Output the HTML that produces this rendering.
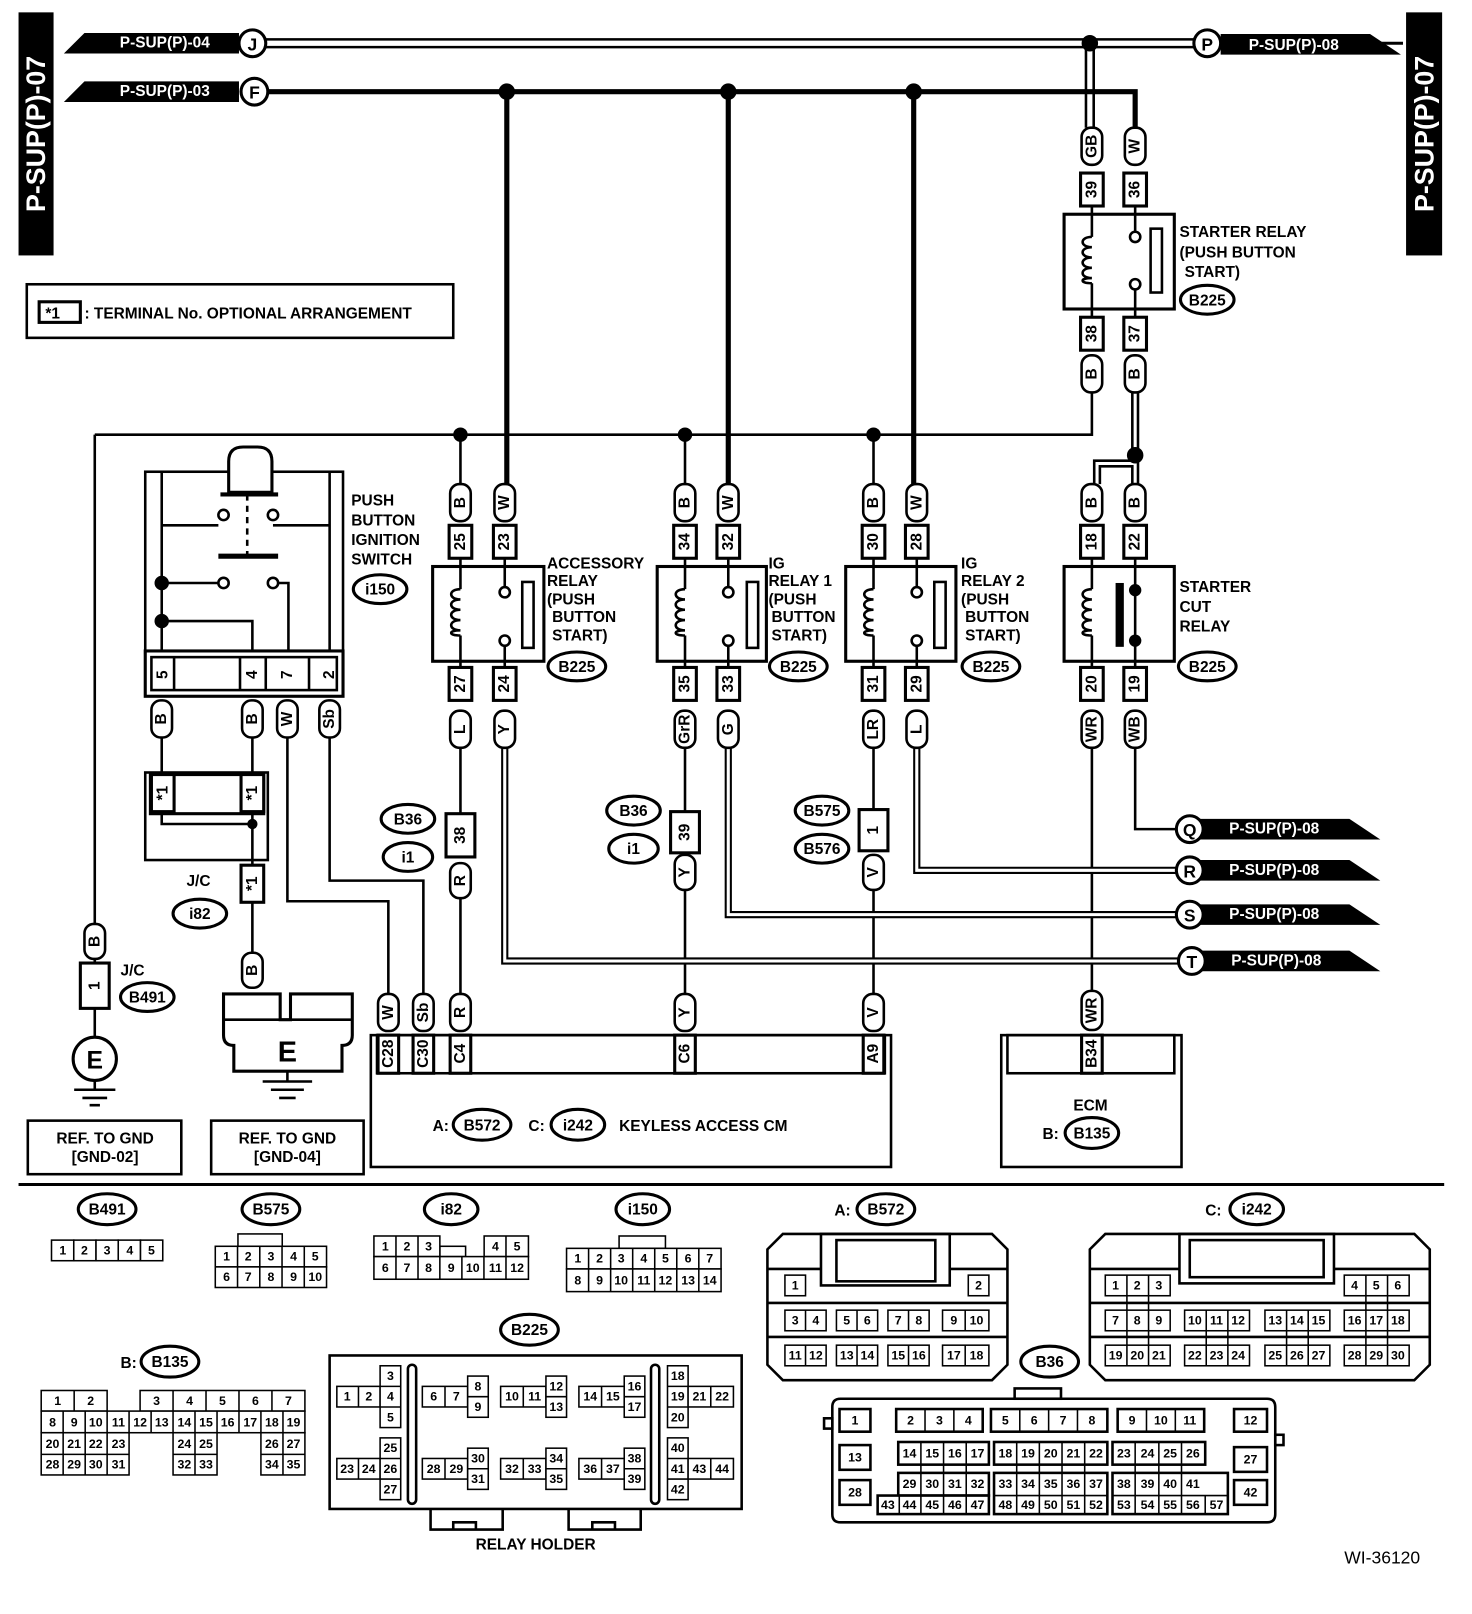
<!DOCTYPE html>
<html><head><meta charset="utf-8"><style>
html,body{margin:0;padding:0;background:#fff}
svg{display:block}
text{font-family:"Liberation Sans",sans-serif;font-weight:bold;fill:#000}
.t{font-size:15px}
.s{font-size:12px;font-weight:normal}
.c{text-anchor:middle;dominant-baseline:central}
.wh{fill:#fff}
.ln{stroke:#000;stroke-width:2.5;fill:none}
.th{stroke:#000;stroke-width:5;fill:none}
.bx{stroke:#000;stroke-width:3;fill:#fff}
.cl{stroke:#000;stroke-width:1.5;fill:#fff}
.tg{stroke:#000;stroke-width:2.5;fill:#fff}
</style></head><body>
<svg width="1472" height="1614" viewBox="0 0 1429 1567" preserveAspectRatio="none" xmlns="http://www.w3.org/2000/svg">
<!-- side labels -->
<rect x="18" y="12" width="34" height="236" fill="#000"/>
<text class="c wh" font-size="26" transform="translate(35,130) rotate(-90)">P-SUP(P)-07</text>
<rect x="1365" y="12" width="35" height="236" fill="#000"/>
<text class="c wh" font-size="26" transform="translate(1383,130) rotate(-90)">P-SUP(P)-07</text>

<!-- J double line -->
<path d="M258 42H1160M1058 42V124" stroke="#000" stroke-width="10" fill="none"/>
<path d="M258 42H1160M1058 42V124" stroke="#fff" stroke-width="5" fill="none"/>
<path d="M1185 42H1362" stroke="#000" stroke-width="3"/>
<polygon points="62,52 82,32 232,32 232,52" fill="#000"/>
<text class="c wh" x="160" y="42" font-size="15">P-SUP(P)-04</text>
<circle cx="245" cy="42" r="13" class="bx"/><text class="c" x="245" y="43" font-size="17">J</text>
<polygon points="1185,33 1330,33 1360,53 1185,53" fill="#000"/>
<text class="c wh" x="1256" y="44" font-size="15">P-SUP(P)-08</text>
<circle cx="1172" cy="42" r="13" class="bx"/><text class="c" x="1172" y="43" font-size="17">P</text>
<circle cx="1058" cy="42" r="8" fill="#000"/>

<!-- F thick line -->
<path d="M258 89H1102V124" class="th"/>
<polygon points="62,99 82,79 232,79 232,99" fill="#000"/>
<text class="c wh" x="160" y="89" font-size="15">P-SUP(P)-03</text>
<circle cx="247" cy="89" r="13" class="bx"/><text class="c" x="247" y="90" font-size="17">F</text>
<path d="M492 89V470M707 89V470M887 89V470" class="th"/>
<circle cx="492" cy="89" r="8" fill="#000"/><circle cx="707" cy="89" r="8" fill="#000"/><circle cx="887" cy="89" r="8" fill="#000"/>

<!-- ground/B line -->
<path d="M92 422H1060V379M447 422V470M665 422V470M848 422V470M92 422V897" class="ln"/>
<circle cx="447" cy="422" r="7" fill="#000"/><circle cx="665" cy="422" r="7" fill="#000"/><circle cx="848" cy="422" r="7" fill="#000"/>
<path d="M1102 379V470M1102 450H1065V470" stroke="#000" stroke-width="8" fill="none"/>
<path d="M1102 379V470M1102 450H1065V470" stroke="#fff" stroke-width="3" fill="none"/>
<circle cx="1102" cy="442" r="8" fill="#000"/>

<!-- lower wires -->
<path d="M447 726V790M447 872V965M665 726V790M665 864V965M848 726V790M848 864V965M1060 726V962M1102 726V805H1145" class="ln"/>
<path d="M490 726V933H1145M707 726V888H1145M890 726V845H1145" stroke="#000" stroke-width="7" fill="none"/>
<path d="M490 726V933H1145M707 726V888H1145M890 726V845H1145" stroke="#fff" stroke-width="3" fill="none"/>

<!-- right pennants -->
<g>
<polygon points="1160,795 1310,795 1340,815 1160,815" fill="#000"/><circle cx="1155" cy="805" r="13" class="bx"/><text class="c" x="1155" y="806" font-size="17">Q</text><text class="c wh" x="1237" y="805" font-size="15">P-SUP(P)-08</text>
<polygon points="1160,835 1310,835 1340,855 1160,855" fill="#000"/><circle cx="1155" cy="845" r="13" class="bx"/><text class="c" x="1155" y="846" font-size="17">R</text><text class="c wh" x="1237" y="845" font-size="15">P-SUP(P)-08</text>
<polygon points="1160,878 1310,878 1340,898 1160,898" fill="#000"/><circle cx="1155" cy="888" r="13" class="bx"/><text class="c" x="1155" y="889" font-size="17">S</text><text class="c wh" x="1237" y="888" font-size="15">P-SUP(P)-08</text>
<polygon points="1160,923 1310,923 1340,943 1160,943" fill="#000"/><circle cx="1157" cy="933" r="13" class="bx"/><text class="c" x="1157" y="934" font-size="17">T</text><text class="c wh" x="1239" y="933" font-size="15">P-SUP(P)-08</text>
</g>

<!-- push switch wiring -->
<path d="M157 716V752M245 716V752M279 716V875H377V965M320 716V855H411V965M245 875V925M92 931V1008" class="ln"/>
<rect x="141" y="750" width="119" height="85" class="ln"/>
<rect x="146" y="752" width="110" height="38" class="bx"/>
<path d="M157 790V800H245M245 790V840" class="ln"/>
<circle cx="245" cy="800" r="5" fill="#000"/>

<!-- relays boxes -->
<g>
<rect x="1033" y="208" width="107" height="92" class="bx"/>
<rect x="420" y="550" width="108" height="92" class="bx"/>
<rect x="638" y="550" width="106" height="92" class="bx"/>
<rect x="821" y="550" width="107" height="92" class="bx"/>
<rect x="1033" y="550" width="107" height="92" class="bx"/>
</g>
<g class="ln">
<path d="M1060 200V230M1060 275V308M1102 200V228M1102 278V308"/>
<path d="M1060 230c-12 0-12 10 0 10c-12 0-12 10 0 10c-12 0-12 10 0 10c-12 0-12 10 0 10c-12 0-12 5 0 5"/>
<path d="M447 542V572M447 617V648M490 542V570M490 628V648"/>
<path d="M447 572c-12 0-12 10 0 10c-12 0-12 10 0 10c-12 0-12 10 0 10c-12 0-12 10 0 10c-12 0-12 5 0 5"/>
<path d="M665 542V572M665 617V648M707 542V570M707 628V648"/>
<path d="M665 572c-12 0-12 10 0 10c-12 0-12 10 0 10c-12 0-12 10 0 10c-12 0-12 10 0 10c-12 0-12 5 0 5"/>
<path d="M848 542V572M848 617V648M890 542V570M890 628V648"/>
<path d="M848 572c-12 0-12 10 0 10c-12 0-12 10 0 10c-12 0-12 10 0 10c-12 0-12 10 0 10c-12 0-12 5 0 5"/>
<path d="M1060 542V572M1060 617V648M1102 542V648"/>
<path d="M1060 572c-12 0-12 10 0 10c-12 0-12 10 0 10c-12 0-12 10 0 10c-12 0-12 10 0 10c-12 0-12 5 0 5"/>
</g>
<g fill="#fff" stroke="#000" stroke-width="2.5">
<circle cx="1102" cy="230" r="5"/><circle cx="1102" cy="276" r="5"/><rect x="1117" y="222" width="11" height="62"/>
<circle cx="490" cy="575" r="5"/><circle cx="490" cy="622" r="5"/><rect x="507" y="565" width="11" height="64"/>
<circle cx="707" cy="575" r="5"/><circle cx="707" cy="622" r="5"/><rect x="725" y="565" width="11" height="64"/>
<circle cx="890" cy="575" r="5"/><circle cx="890" cy="622" r="5"/><rect x="907" y="565" width="11" height="64"/>
</g>
<rect x="1083" y="566" width="8" height="62" fill="#000"/>
<circle cx="1102" cy="573" r="6" fill="#000"/><circle cx="1102" cy="622" r="6" fill="#000"/>

<!-- push button switch -->
<rect x="141" y="458" width="192" height="176" class="ln"/>
<path d="M157 458V632M320 458V632" class="ln"/>
<path d="M222 478V448q0-14 14-14h14q14 0 14 14V478Z" class="bx"/>
<path d="M214 480H270" stroke="#000" stroke-width="4"/>
<path d="M240 480V545" stroke="#000" stroke-width="2.5" stroke-dasharray="6,5"/>
<path d="M212 540H270" stroke="#000" stroke-width="5"/>
<path d="M157 510H212M265 510H320M157 566H212M265 566H280V632M157 603H245V632" class="ln"/>
<g fill="#fff" stroke="#000" stroke-width="2.5"><circle cx="217" cy="500" r="5"/><circle cx="265" cy="500" r="5"/><circle cx="217" cy="566" r="5"/><circle cx="265" cy="566" r="5"/></g>
<circle cx="157" cy="566" r="7" fill="#000"/><circle cx="157" cy="603" r="7" fill="#000"/>
<rect x="141" y="632" width="192" height="44" class="bx"/>
<rect x="147" y="638" width="180" height="32" class="ln"/>
<path d="M169 638V670M233 638V670M258 638V670M300 638V670" class="ln"/>
<text class="c t" transform="translate(158,655) rotate(-90)">5</text>
<text class="c t" transform="translate(245,655) rotate(-90)">4</text>
<text class="c t" transform="translate(279,655) rotate(-90)">7</text>
<text class="c t" transform="translate(320,655) rotate(-90)">2</text>
<text class="t" x="341" y="491">PUSH</text><text class="t" x="341" y="510">BUTTON</text><text class="t" x="341" y="529">IGNITION</text><text class="t" x="341" y="548">SWITCH</text>

<!-- keyless CM & ECM boxes (no fill so labels show) -->
<rect x="360" y="1005" width="505" height="128" class="ln" stroke-width="3"/>
<rect x="366" y="1005" width="493" height="37" class="ln"/>
<rect x="972" y="1005" width="175" height="128" class="ln" stroke-width="3"/>
<rect x="978" y="1005" width="162" height="37" class="ln"/>

<!-- tags -->
<g class="tg">
<rect x="1050" y="124" width="20" height="36" rx="9"/><rect x="1092" y="124" width="20" height="36" rx="9"/>
<rect x="1050" y="345" width="20" height="36" rx="9"/><rect x="1092" y="345" width="20" height="36" rx="9"/>
<rect x="1050" y="470" width="20" height="36" rx="9"/><rect x="1092" y="470" width="20" height="36" rx="9"/>
<rect x="1050" y="690" width="20" height="36" rx="9"/><rect x="1092" y="690" width="20" height="36" rx="9"/>
<rect x="437" y="470" width="20" height="36" rx="9"/><rect x="480" y="470" width="20" height="36" rx="9"/>
<rect x="437" y="690" width="20" height="36" rx="9"/><rect x="480" y="690" width="20" height="36" rx="9"/>
<rect x="655" y="470" width="20" height="36" rx="9"/><rect x="697" y="470" width="20" height="36" rx="9"/>
<rect x="655" y="690" width="20" height="36" rx="9"/><rect x="697" y="690" width="20" height="36" rx="9"/>
<rect x="838" y="470" width="20" height="36" rx="9"/><rect x="880" y="470" width="20" height="36" rx="9"/>
<rect x="838" y="690" width="20" height="36" rx="9"/><rect x="880" y="690" width="20" height="36" rx="9"/>
<rect x="147" y="680" width="20" height="36" rx="9"/><rect x="235" y="680" width="20" height="36" rx="9"/>
<rect x="269" y="680" width="20" height="36" rx="9"/><rect x="310" y="680" width="20" height="36" rx="9"/>
<rect x="437" y="838" width="20" height="34" rx="9"/><rect x="655" y="830" width="20" height="34" rx="9"/><rect x="838" y="830" width="20" height="34" rx="9"/>
<rect x="82" y="897" width="20" height="34" rx="9"/><rect x="235" y="925" width="20" height="34" rx="9"/>
<rect x="367" y="965" width="20" height="36" rx="9"/><rect x="401" y="965" width="20" height="36" rx="9"/>
<rect x="437" y="965" width="20" height="36" rx="9"/><rect x="655" y="965" width="20" height="36" rx="9"/>
<rect x="838" y="965" width="20" height="36" rx="9"/><rect x="1050" y="962" width="20" height="38" rx="9"/>
</g>
<g class="t">
<text class="c" transform="translate(1060,142) rotate(-90)">GB</text><text class="c" transform="translate(1102,142) rotate(-90)">W</text>
<text class="c" transform="translate(1060,363) rotate(-90)">B</text><text class="c" transform="translate(1102,363) rotate(-90)">B</text>
<text class="c" transform="translate(1060,488) rotate(-90)">B</text><text class="c" transform="translate(1102,488) rotate(-90)">B</text>
<text class="c" transform="translate(1060,708) rotate(-90)">WR</text><text class="c" transform="translate(1102,708) rotate(-90)">WB</text>
<text class="c" transform="translate(447,488) rotate(-90)">B</text><text class="c" transform="translate(490,488) rotate(-90)">W</text>
<text class="c" transform="translate(447,708) rotate(-90)">L</text><text class="c" transform="translate(490,708) rotate(-90)">Y</text>
<text class="c" transform="translate(665,488) rotate(-90)">B</text><text class="c" transform="translate(707,488) rotate(-90)">W</text>
<text class="c" transform="translate(665,708) rotate(-90)">GrR</text><text class="c" transform="translate(707,708) rotate(-90)">G</text>
<text class="c" transform="translate(848,488) rotate(-90)">B</text><text class="c" transform="translate(890,488) rotate(-90)">W</text>
<text class="c" transform="translate(848,708) rotate(-90)">LR</text><text class="c" transform="translate(890,708) rotate(-90)">L</text>
<text class="c" transform="translate(157,698) rotate(-90)">B</text><text class="c" transform="translate(245,698) rotate(-90)">B</text>
<text class="c" transform="translate(279,698) rotate(-90)">W</text><text class="c" transform="translate(320,698) rotate(-90)">Sb</text>
<text class="c" transform="translate(447,855) rotate(-90)">R</text><text class="c" transform="translate(665,847) rotate(-90)">Y</text><text class="c" transform="translate(848,847) rotate(-90)">V</text>
<text class="c" transform="translate(92,914) rotate(-90)">B</text><text class="c" transform="translate(245,942) rotate(-90)">B</text>
<text class="c" transform="translate(377,983) rotate(-90)">W</text><text class="c" transform="translate(411,983) rotate(-90)">Sb</text>
<text class="c" transform="translate(447,983) rotate(-90)">R</text><text class="c" transform="translate(665,983) rotate(-90)">Y</text>
<text class="c" transform="translate(848,983) rotate(-90)">V</text><text class="c" transform="translate(1060,981) rotate(-90)">WR</text>
</g>

<!-- pin boxes -->
<g class="bx">
<rect x="1049" y="168" width="22" height="32"/><rect x="1091" y="168" width="22" height="32"/>
<rect x="1049" y="308" width="22" height="32"/><rect x="1091" y="308" width="22" height="32"/>
<rect x="1049" y="510" width="22" height="32"/><rect x="1091" y="510" width="22" height="32"/>
<rect x="1049" y="648" width="22" height="32"/><rect x="1091" y="648" width="22" height="32"/>
<rect x="436" y="510" width="22" height="32"/><rect x="479" y="510" width="22" height="32"/>
<rect x="436" y="648" width="22" height="32"/><rect x="479" y="648" width="22" height="32"/>
<rect x="654" y="510" width="22" height="32"/><rect x="696" y="510" width="22" height="32"/>
<rect x="654" y="648" width="22" height="32"/><rect x="696" y="648" width="22" height="32"/>
<rect x="837" y="510" width="22" height="32"/><rect x="879" y="510" width="22" height="32"/>
<rect x="837" y="648" width="22" height="32"/><rect x="879" y="648" width="22" height="32"/>
<rect x="433" y="790" width="28" height="42"/><rect x="651" y="788" width="28" height="40"/><rect x="834" y="786" width="28" height="40"/>
<rect x="78" y="935" width="28" height="44"/>
<rect x="147" y="752" width="22" height="36"/><rect x="234" y="752" width="22" height="36"/><rect x="234" y="840" width="22" height="36"/>
<rect x="367" y="1005" width="20" height="37"/><rect x="401" y="1005" width="20" height="37"/><rect x="437" y="1005" width="20" height="37"/><rect x="655" y="1005" width="20" height="37"/><rect x="838" y="1005" width="20" height="37"/>
<rect x="1050" y="1005" width="20" height="37"/>
</g>
<g class="t">
<text class="c" transform="translate(1060,184) rotate(-90)">39</text><text class="c" transform="translate(1102,184) rotate(-90)">36</text>
<text class="c" transform="translate(1060,324) rotate(-90)">38</text><text class="c" transform="translate(1102,324) rotate(-90)">37</text>
<text class="c" transform="translate(1060,526) rotate(-90)">18</text><text class="c" transform="translate(1102,526) rotate(-90)">22</text>
<text class="c" transform="translate(1060,664) rotate(-90)">20</text><text class="c" transform="translate(1102,664) rotate(-90)">19</text>
<text class="c" transform="translate(447,526) rotate(-90)">25</text><text class="c" transform="translate(490,526) rotate(-90)">23</text>
<text class="c" transform="translate(447,664) rotate(-90)">27</text><text class="c" transform="translate(490,664) rotate(-90)">24</text>
<text class="c" transform="translate(665,526) rotate(-90)">34</text><text class="c" transform="translate(707,526) rotate(-90)">32</text>
<text class="c" transform="translate(665,664) rotate(-90)">35</text><text class="c" transform="translate(707,664) rotate(-90)">33</text>
<text class="c" transform="translate(848,526) rotate(-90)">30</text><text class="c" transform="translate(890,526) rotate(-90)">28</text>
<text class="c" transform="translate(848,664) rotate(-90)">31</text><text class="c" transform="translate(890,664) rotate(-90)">29</text>
<text class="c" transform="translate(447,811) rotate(-90)">38</text><text class="c" transform="translate(665,808) rotate(-90)">39</text><text class="c" transform="translate(848,806) rotate(-90)">1</text>
<text class="c" transform="translate(92,957) rotate(-90)">1</text>
<text class="c" transform="translate(158,770) rotate(-90)">*1</text><text class="c" transform="translate(245,770) rotate(-90)">*1</text><text class="c" transform="translate(245,858) rotate(-90)">*1</text>
<text class="c" transform="translate(377,1023) rotate(-90)">C28</text><text class="c" transform="translate(411,1023) rotate(-90)">C30</text><text class="c" transform="translate(447,1023) rotate(-90)">C4</text><text class="c" transform="translate(665,1023) rotate(-90)">C6</text><text class="c" transform="translate(848,1023) rotate(-90)">A9</text>
<text class="c" transform="translate(1060,1023) rotate(-90)">B34</text>
</g>

<!-- relay labels -->
<g class="t">
<text x="1145" y="230">STARTER RELAY</text><text x="1145" y="250">(PUSH BUTTON</text><text x="1150" y="269">START)</text>
<text x="531" y="552">ACCESSORY</text><text x="531" y="569">RELAY</text><text x="531" y="587">(PUSH</text><text x="536" y="604">BUTTON</text><text x="536" y="622">START)</text>
<text x="746" y="552">IG</text><text x="746" y="569">RELAY 1</text><text x="746" y="587">(PUSH</text><text x="749" y="604">BUTTON</text><text x="749" y="622">START)</text>
<text x="933" y="552">IG</text><text x="933" y="569">RELAY 2</text><text x="933" y="587">(PUSH</text><text x="937" y="604">BUTTON</text><text x="937" y="622">START)</text>
<text x="1145" y="575">STARTER</text><text x="1145" y="594">CUT</text><text x="1145" y="613">RELAY</text>
<text x="181" y="860">J/C</text><text x="117" y="947">J/C</text>
</g>
<!-- ovals -->
<g fill="#fff" stroke="#000" stroke-width="3">
<ellipse cx="1172" cy="291" rx="26" ry="14"/><ellipse cx="560" cy="647" rx="28" ry="14"/><ellipse cx="775" cy="647" rx="28" ry="14"/>
<ellipse cx="962" cy="647" rx="28" ry="14"/><ellipse cx="1172" cy="647" rx="28" ry="14"/><ellipse cx="369" cy="572" rx="26" ry="14"/>
<ellipse cx="396" cy="795" rx="26" ry="14"/><ellipse cx="396" cy="832" rx="24" ry="14"/>
<ellipse cx="615" cy="787" rx="26" ry="14"/><ellipse cx="615" cy="824" rx="24" ry="14"/>
<ellipse cx="798" cy="787" rx="26" ry="14"/><ellipse cx="798" cy="824" rx="26" ry="14"/>
<ellipse cx="194" cy="887" rx="26" ry="14"/><ellipse cx="143" cy="968" rx="26" ry="14"/>
<ellipse cx="468" cy="1092" rx="28" ry="15"/><ellipse cx="561" cy="1092" rx="26" ry="15"/><ellipse cx="1060" cy="1100" rx="26" ry="15"/>
<ellipse cx="104" cy="1174" rx="28" ry="15"/><ellipse cx="263" cy="1174" rx="28" ry="15"/><ellipse cx="438" cy="1174" rx="26" ry="15"/><ellipse cx="624" cy="1174" rx="26" ry="15"/>
<ellipse cx="860" cy="1174" rx="28" ry="15"/><ellipse cx="1220" cy="1174" rx="26" ry="15"/><ellipse cx="514" cy="1291" rx="28" ry="15"/>
<ellipse cx="165" cy="1322" rx="28" ry="15"/><ellipse cx="1019" cy="1322" rx="28" ry="15"/>
</g>
<g class="t">
<text class="c" x="1172" y="292">B225</text><text class="c" x="560" y="648">B225</text><text class="c" x="775" y="648">B225</text>
<text class="c" x="962" y="648">B225</text><text class="c" x="1172" y="648">B225</text><text class="c" x="369" y="573">i150</text>
<text class="c" x="396" y="796">B36</text><text class="c" x="396" y="833">i1</text>
<text class="c" x="615" y="788">B36</text><text class="c" x="615" y="825">i1</text>
<text class="c" x="798" y="788">B575</text><text class="c" x="798" y="825">B576</text>
<text class="c" x="194" y="888">i82</text><text class="c" x="143" y="969">B491</text>
<text class="c" x="468" y="1093">B572</text><text class="c" x="561" y="1093">i242</text><text class="c" x="1060" y="1101">B135</text>
<text class="c" x="104" y="1175">B491</text><text class="c" x="263" y="1175">B575</text><text class="c" x="438" y="1175">i82</text><text class="c" x="624" y="1175">i150</text>
<text class="c" x="860" y="1175">B572</text><text class="c" x="1220" y="1175">i242</text><text class="c" x="514" y="1292">B225</text>
<text class="c" x="165" y="1323">B135</text><text class="c" x="1019" y="1323">B36</text>
<text x="810" y="1180">A:</text><text x="1170" y="1180">C:</text><text x="117" y="1328">B:</text>
<text x="420" y="1098">A:</text><text x="513" y="1098">C:</text><text x="601" y="1098">KEYLESS ACCESS CM</text>
<text x="1042" y="1078">ECM</text><text x="1012" y="1106">B:</text>
</g>

<!-- terminal note -->
<rect x="26" y="276" width="414" height="52" class="ln" stroke-width="3"/>
<rect x="38" y="293" width="40" height="20" class="bx"/>
<text class="t" x="44" y="309">*1</text><text class="t" x="82" y="309">: TERMINAL No. OPTIONAL ARRANGEMENT</text>

<!-- grounds -->
<circle cx="92" cy="1028" r="21" class="bx"/><text class="c" x="92" y="1030" font-size="24">E</text>
<path d="M92 1049V1058M72 1058H112M80 1066H104M87 1073H97" class="ln"/>
<path d="M217 965h55v25h10v-25h60v40q0 10-10 10v25H227v-25q-10 0-10-10Z" class="bx"/>
<path d="M217 990H272M282 990H342" class="ln"/>
<text class="c" x="279" y="1022" font-size="28">E</text>
<path d="M279 1040V1050M255 1050H303M263 1058H295M271 1066H287" class="ln"/>
<rect x="27" y="1088" width="149" height="52" class="ln" stroke-width="3"/>
<text class="c t" x="102" y="1106">REF. TO GND</text><text class="c t" x="102" y="1124">[GND-02]</text>
<rect x="205" y="1088" width="148" height="52" class="ln" stroke-width="3"/>
<text class="c t" x="279" y="1106">REF. TO GND</text><text class="c t" x="279" y="1124">[GND-04]</text>

<path d="M18 1150H1402" stroke="#000" stroke-width="3"/>

<!-- bottom connectors -->
<g class="cl">
<rect x="50" y="1204" width="21.6" height="20"/><rect x="71.6" y="1204" width="21.6" height="20"/><rect x="93.2" y="1204" width="21.6" height="20"/><rect x="114.8" y="1204" width="21.6" height="20"/><rect x="136.4" y="1204" width="21.6" height="20"/>
<rect x="231" y="1198" width="43" height="12"/>
<rect x="209" y="1210" width="108" height="20"/><rect x="209" y="1230" width="108" height="20"/>
<path d="M230.6 1210V1250M252.2 1210V1250M273.8 1210V1250M295.4 1210V1250"/>
<rect x="427" y="1210" width="25" height="10"/>
<rect x="363" y="1200" width="64" height="20"/><rect x="470" y="1200" width="43" height="20"/><rect x="363" y="1220" width="150" height="22"/>
<path d="M384.4 1200V1242M405.8 1200V1242M427 1220V1242M448.4 1220V1242M469.8 1220V1242M491.2 1200V1242"/>
<rect x="601" y="1200" width="45" height="12"/>
<rect x="550" y="1212" width="150" height="20"/><rect x="550" y="1232" width="150" height="22"/>
<path d="M571.4 1212V1254M592.8 1212V1254M614.2 1212V1254M635.6 1212V1254M657 1212V1254M678.4 1212V1254"/>
<rect x="40" y="1350" width="64" height="20"/><rect x="136" y="1350" width="160" height="20"/>
<path d="M72 1350V1370M168 1350V1370M200 1350V1370M232 1350V1370M264 1350V1370"/>
<rect x="40" y="1370" width="256" height="21"/>
<path d="M61.3 1370V1391M82.7 1370V1391M104 1370V1391M125.3 1370V1391M146.7 1370V1391M168 1370V1391M189.3 1370V1391M210.7 1370V1391M232 1370V1391M253.3 1370V1391M274.7 1370V1391"/>
<rect x="40" y="1391" width="85.3" height="41"/><rect x="168" y="1391" width="42.7" height="41"/><rect x="253.3" y="1391" width="42.7" height="41"/>
<path d="M40 1412H125.3M61.3 1391V1432M82.7 1391V1432M104 1391V1432M168 1412H210.7M189.3 1391V1432M253.3 1412H296M274.7 1391V1432"/>
</g>
<g class="s c">
<text x="61" y="1214">1</text><text x="82" y="1214">2</text><text x="104" y="1214">3</text><text x="126" y="1214">4</text><text x="147" y="1214">5</text>
<text x="220" y="1220">1</text><text x="241" y="1220">2</text><text x="263" y="1220">3</text><text x="285" y="1220">4</text><text x="306" y="1220">5</text>
<text x="220" y="1240">6</text><text x="241" y="1240">7</text><text x="263" y="1240">8</text><text x="285" y="1240">9</text><text x="306" y="1240">10</text>
<text x="374" y="1210">1</text><text x="395" y="1210">2</text><text x="416" y="1210">3</text><text x="481" y="1210">4</text><text x="502" y="1210">5</text>
<text x="374" y="1231">6</text><text x="395" y="1231">7</text><text x="416" y="1231">8</text><text x="438" y="1231">9</text><text x="459" y="1231">10</text><text x="481" y="1231">11</text><text x="502" y="1231">12</text>
<text x="561" y="1222">1</text><text x="582" y="1222">2</text><text x="603" y="1222">3</text><text x="625" y="1222">4</text><text x="646" y="1222">5</text><text x="668" y="1222">6</text><text x="689" y="1222">7</text>
<text x="561" y="1243">8</text><text x="582" y="1243">9</text><text x="603" y="1243">10</text><text x="625" y="1243">11</text><text x="646" y="1243">12</text><text x="668" y="1243">13</text><text x="689" y="1243">14</text>
<text x="56" y="1360">1</text><text x="88" y="1360">2</text><text x="152" y="1360">3</text><text x="184" y="1360">4</text><text x="216" y="1360">5</text><text x="248" y="1360">6</text><text x="280" y="1360">7</text>
<text x="51" y="1381">8</text><text x="72" y="1381">9</text><text x="93" y="1381">10</text><text x="115" y="1381">11</text><text x="136" y="1381">12</text><text x="157" y="1381">13</text><text x="179" y="1381">14</text><text x="200" y="1381">15</text><text x="221" y="1381">16</text><text x="243" y="1381">17</text><text x="264" y="1381">18</text><text x="285" y="1381">19</text>
<text x="51" y="1402">20</text><text x="72" y="1402">21</text><text x="93" y="1402">22</text><text x="115" y="1402">23</text><text x="179" y="1402">24</text><text x="200" y="1402">25</text><text x="264" y="1402">26</text><text x="285" y="1402">27</text>
<text x="51" y="1422">28</text><text x="72" y="1422">29</text><text x="93" y="1422">30</text><text x="115" y="1422">31</text><text x="179" y="1422">32</text><text x="200" y="1422">33</text><text x="264" y="1422">34</text><text x="285" y="1422">35</text>
</g>

<!-- B572 -->
<path d="M760 1198H963L978 1213V1325L963 1340H760L745 1325V1213Z" class="ln"/>
<path d="M745 1232H797M922 1232H978M745 1265H978M745 1298H978" class="ln"/>
<rect x="797" y="1198" width="125" height="50" class="ln"/><rect x="812" y="1204" width="96" height="40" class="ln"/>
<g class="cl">
<rect x="762" y="1238" width="20" height="20"/><rect x="940" y="1238" width="20" height="20"/>
<rect x="762" y="1272" width="40" height="20"/><rect x="812" y="1272" width="40" height="20"/><rect x="862" y="1272" width="40" height="20"/><rect x="915" y="1272" width="45" height="20"/>
<rect x="762" y="1306" width="40" height="20"/><rect x="812" y="1306" width="40" height="20"/><rect x="862" y="1306" width="40" height="20"/><rect x="915" y="1306" width="45" height="20"/>
<path d="M782 1272V1292M832 1272V1292M882 1272V1292M937 1272V1292M782 1306V1326M832 1306V1326M882 1306V1326M937 1306V1326"/>
</g>
<g class="s c">
<text x="772" y="1248">1</text><text x="950" y="1248">2</text>
<text x="772" y="1282">3</text><text x="792" y="1282">4</text><text x="822" y="1282">5</text><text x="842" y="1282">6</text><text x="872" y="1282">7</text><text x="892" y="1282">8</text><text x="926" y="1282">9</text><text x="948" y="1282">10</text>
<text x="772" y="1316">11</text><text x="792" y="1316">12</text><text x="822" y="1316">13</text><text x="842" y="1316">14</text><text x="872" y="1316">15</text><text x="892" y="1316">16</text><text x="926" y="1316">17</text><text x="948" y="1316">18</text>
</g>
<!-- i242 -->
<path d="M1073 1198H1373L1388 1213V1325L1373 1340H1073L1058 1325V1213Z" class="ln"/>
<path d="M1058 1232H1145M1295 1232H1388M1058 1265H1388M1058 1298H1388" class="ln"/>
<rect x="1145" y="1198" width="150" height="48" class="ln"/><rect x="1155" y="1204" width="130" height="36" class="ln"/>
<g class="cl">
<rect x="1073" y="1238" width="63" height="20"/><rect x="1305" y="1238" width="63" height="20"/>
<rect x="1073" y="1272" width="63" height="20"/><rect x="1150" y="1272" width="63" height="20"/><rect x="1228" y="1272" width="63" height="20"/><rect x="1305" y="1272" width="63" height="20"/>
<rect x="1073" y="1306" width="63" height="20"/><rect x="1150" y="1306" width="63" height="20"/><rect x="1228" y="1306" width="63" height="20"/><rect x="1305" y="1306" width="63" height="20"/>
<path d="M1094 1238V1326M1115 1238V1326M1326 1238V1326M1347 1238V1326M1171 1272V1326M1192 1272V1326M1249 1272V1326M1270 1272V1326"/>
</g>
<g class="s c">
<text x="1083" y="1248">1</text><text x="1104" y="1248">2</text><text x="1125" y="1248">3</text><text x="1315" y="1248">4</text><text x="1336" y="1248">5</text><text x="1357" y="1248">6</text>
<text x="1083" y="1282">7</text><text x="1104" y="1282">8</text><text x="1125" y="1282">9</text><text x="1160" y="1282">10</text><text x="1181" y="1282">11</text><text x="1202" y="1282">12</text><text x="1238" y="1282">13</text><text x="1259" y="1282">14</text><text x="1280" y="1282">15</text><text x="1315" y="1282">16</text><text x="1336" y="1282">17</text><text x="1357" y="1282">18</text>
<text x="1083" y="1316">19</text><text x="1104" y="1316">20</text><text x="1125" y="1316">21</text><text x="1160" y="1316">22</text><text x="1181" y="1316">23</text><text x="1202" y="1316">24</text><text x="1238" y="1316">25</text><text x="1259" y="1316">26</text><text x="1280" y="1316">27</text><text x="1315" y="1316">28</text><text x="1336" y="1316">29</text><text x="1357" y="1316">30</text>
</g>

<!-- B36 -->
<path d="M816 1358H1230Q1238 1358 1238 1366V1470Q1238 1478 1230 1478H816Q808 1478 808 1470V1366Q808 1358 816 1358Z" class="ln"/>
<rect x="985" y="1348" width="45" height="10" class="ln"/><rect x="800" y="1377" width="8" height="10" class="ln"/><rect x="1238" y="1393" width="8" height="10" class="ln"/>
<g class="cl">
<rect x="815" y="1368" width="30" height="22" stroke-width="2.5"/><rect x="1198" y="1368" width="32" height="22" stroke-width="2.5"/>
<rect x="815" y="1403" width="30" height="24" stroke-width="2.5"/><rect x="1198" y="1405" width="32" height="24" stroke-width="2.5"/>
<rect x="815" y="1437" width="30" height="24" stroke-width="2.5"/><rect x="1198" y="1437" width="32" height="24" stroke-width="2.5"/>
<rect x="870" y="1368" width="84" height="22" stroke-width="2.5"/><rect x="962" y="1368" width="113" height="22" stroke-width="2.5"/><rect x="1085" y="1368" width="84" height="22" stroke-width="2.5"/>
<rect x="872" y="1400" width="88" height="22" stroke-width="2.5"/><rect x="965" y="1400" width="110" height="22" stroke-width="2.5"/><rect x="1080" y="1400" width="90" height="22" stroke-width="2.5"/>
<rect x="872" y="1430" width="88" height="22" stroke-width="2.5"/><rect x="965" y="1430" width="110" height="40" stroke-width="2.5"/><rect x="1080" y="1430" width="112" height="40" stroke-width="2.5"/>
<rect x="852" y="1452" width="108" height="18" stroke-width="2.5"/>
<path d="M898 1368V1390M926 1368V1390M990 1368V1390M1018 1368V1390M1046 1368V1390M1113 1368V1390M1141 1368V1390"/>
<path d="M894 1400V1452M916 1400V1452M938 1400V1452M987 1400V1470M1009 1400V1470M1031 1400V1470M1053 1400V1470M1102 1400V1470M1125 1400V1470M1147 1400V1470M1170 1452V1470M965 1452H1075M1080 1452H1192M873 1452V1470M894 1452V1470M916 1452V1470M938 1452V1470"/>
</g>
<g class="s c">
<text x="830" y="1379">1</text><text x="884" y="1379">2</text><text x="912" y="1379">3</text><text x="940" y="1379">4</text><text x="976" y="1379">5</text><text x="1004" y="1379">6</text><text x="1032" y="1379">7</text><text x="1060" y="1379">8</text><text x="1099" y="1379">9</text><text x="1127" y="1379">10</text><text x="1155" y="1379">11</text><text x="1214" y="1379">12</text>
<text x="830" y="1415">13</text><text x="883" y="1411">14</text><text x="905" y="1411">15</text><text x="927" y="1411">16</text><text x="949" y="1411">17</text><text x="976" y="1411">18</text><text x="998" y="1411">19</text><text x="1020" y="1411">20</text><text x="1042" y="1411">21</text><text x="1064" y="1411">22</text><text x="1091" y="1411">23</text><text x="1114" y="1411">24</text><text x="1136" y="1411">25</text><text x="1158" y="1411">26</text><text x="1214" y="1417">27</text>
<text x="830" y="1449">28</text><text x="883" y="1441">29</text><text x="905" y="1441">30</text><text x="927" y="1441">31</text><text x="949" y="1441">32</text><text x="976" y="1441">33</text><text x="998" y="1441">34</text><text x="1020" y="1441">35</text><text x="1042" y="1441">36</text><text x="1064" y="1441">37</text><text x="1091" y="1441">38</text><text x="1114" y="1441">39</text><text x="1136" y="1441">40</text><text x="1158" y="1441">41</text><text x="1214" y="1449">42</text>
<text x="862" y="1461">43</text><text x="883" y="1461">44</text><text x="905" y="1461">45</text><text x="927" y="1461">46</text><text x="949" y="1461">47</text><text x="976" y="1461">48</text><text x="998" y="1461">49</text><text x="1020" y="1461">50</text><text x="1042" y="1461">51</text><text x="1064" y="1461">52</text><text x="1091" y="1461">53</text><text x="1114" y="1461">54</text><text x="1136" y="1461">55</text><text x="1158" y="1461">56</text><text x="1181" y="1461">57</text>
</g>

<!-- B225 -->
<rect x="320" y="1316" width="400" height="149" class="ln" stroke-width="3"/>
<rect x="396" y="1325" width="8" height="135" rx="4" class="ln"/><rect x="632" y="1325" width="8" height="135" rx="4" class="ln"/>
<path d="M418 1465V1485H488V1465M552 1465V1485H622V1465M440 1485V1478H462V1485M575 1485V1478H597V1485" class="ln"/>
<g class="cl" stroke-width="2">
<rect x="327" y="1346" width="42" height="20"/><rect x="369" y="1326" width="20" height="60"/>
<rect x="327" y="1416" width="42" height="20"/><rect x="369" y="1396" width="20" height="60"/>
<rect x="410" y="1346" width="44" height="20"/><rect x="454" y="1336" width="20" height="40"/>
<rect x="410" y="1416" width="44" height="20"/><rect x="454" y="1406" width="20" height="40"/>
<rect x="486" y="1346" width="44" height="20"/><rect x="530" y="1336" width="20" height="40"/>
<rect x="486" y="1416" width="44" height="20"/><rect x="530" y="1406" width="20" height="40"/>
<rect x="562" y="1346" width="44" height="20"/><rect x="606" y="1336" width="20" height="40"/>
<rect x="562" y="1416" width="44" height="20"/><rect x="606" y="1406" width="20" height="40"/>
<rect x="648" y="1326" width="20" height="60"/><rect x="668" y="1346" width="44" height="20"/>
<rect x="648" y="1396" width="20" height="60"/><rect x="668" y="1416" width="44" height="20"/>
<path d="M348 1346V1366M369 1346H389M369 1366H389M348 1416V1436M369 1416H389M369 1436H389M432 1346V1366M454 1356H474M432 1416V1436M454 1426H474M508 1346V1366M530 1356H550M508 1416V1436M530 1426H550M584 1346V1366M606 1356H626M584 1416V1436M606 1426H626M648 1346H668M648 1366H668M690 1346V1366M648 1416H668M648 1436H668M690 1416V1436"/>
</g>
<g class="s c">
<text x="337" y="1356">1</text><text x="358" y="1356">2</text><text x="379" y="1336">3</text><text x="379" y="1356">4</text><text x="379" y="1376">5</text>
<text x="337" y="1426">23</text><text x="358" y="1426">24</text><text x="379" y="1406">25</text><text x="379" y="1426">26</text><text x="379" y="1446">27</text>
<text x="421" y="1356">6</text><text x="443" y="1356">7</text><text x="464" y="1346">8</text><text x="464" y="1366">9</text>
<text x="421" y="1426">28</text><text x="443" y="1426">29</text><text x="464" y="1416">30</text><text x="464" y="1436">31</text>
<text x="497" y="1356">10</text><text x="519" y="1356">11</text><text x="540" y="1346">12</text><text x="540" y="1366">13</text>
<text x="497" y="1426">32</text><text x="519" y="1426">33</text><text x="540" y="1416">34</text><text x="540" y="1436">35</text>
<text x="573" y="1356">14</text><text x="595" y="1356">15</text><text x="616" y="1346">16</text><text x="616" y="1366">17</text>
<text x="573" y="1426">36</text><text x="595" y="1426">37</text><text x="616" y="1416">38</text><text x="616" y="1436">39</text>
<text x="658" y="1336">18</text><text x="658" y="1356">19</text><text x="658" y="1376">20</text><text x="679" y="1356">21</text><text x="701" y="1356">22</text>
<text x="658" y="1406">40</text><text x="658" y="1426">41</text><text x="658" y="1446">42</text><text x="679" y="1426">43</text><text x="701" y="1426">44</text>
</g>
<text class="c t" x="520" y="1500">RELAY HOLDER</text>
<text x="1305" y="1518" font-size="17" style="font-weight:normal">WI-36120</text>
</svg>
</body></html>
